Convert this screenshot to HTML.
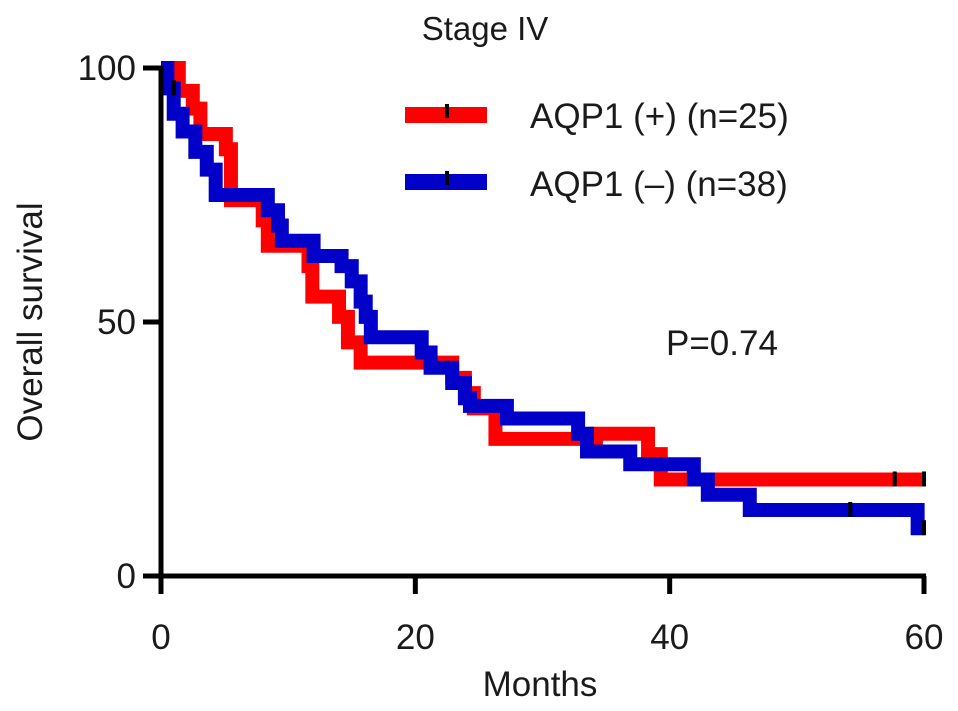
<!DOCTYPE html>
<html><head><meta charset="utf-8"><style>
body{margin:0;background:#fff;}
svg{display:block;font-family:"Liberation Sans",Arial,sans-serif;}
</style></head><body>
<svg id="chart" width="958" height="711" viewBox="0 0 958 711">
<text x="485" y="40" font-size="33" text-anchor="middle" fill="#1a1a1a">Stage IV</text>
<g id="series"></g>
<g id="axes" stroke="#000" stroke-width="5" fill="none"></g>
<g id="labels" font-size="35" fill="#1a1a1a"></g>
<text x="540" y="696" font-size="35" text-anchor="middle" fill="#1a1a1a">Months</text>
<text transform="translate(42,322) rotate(-90)" font-size="35" text-anchor="middle" fill="#1a1a1a">Overall survival</text>
<text x="666" y="355" font-size="35" fill="#1a1a1a">P=0.74</text>
<g>
<line x1="405" y1="115" x2="487" y2="115" stroke="#ff0000" stroke-width="16"/>
<line x1="447" y1="104" x2="447" y2="118" stroke="#000" stroke-width="4"/>
<text x="530" y="128" font-size="35" fill="#1a1a1a">AQP1 (+) (n=25)</text>
<line x1="405" y1="182" x2="487" y2="182" stroke="#0000c8" stroke-width="16"/>
<line x1="447" y1="171" x2="447" y2="185" stroke="#000" stroke-width="4"/>
<text x="530" y="196" font-size="35" fill="#1a1a1a">AQP1 (–) (n=38)</text>
</g>
</svg>
<script>
const xTicks=[0,20,40,60];
const yTicks=[0,50,100];
const redTimes=[0,1.4,2.5,3.1,5.1,5.5,8,8.4,11.6,11.9,14,14.7,15.7,22.9,23.9,24.6,26.3,34.2,38.3,39.3];
const redSurv=[100,95.5,92,87,84,74,70,65,61,55,51,46,42,39,36,33,27,28,24,19];
const redCensor=[57.7,60];
const redCensorSurv=[19,19];
const blueTimes=[0,0.5,1,1.7,2.7,3.6,4.3,8.4,9.2,9.5,12,14.2,15,15.7,16.1,16.5,20.5,21.2,22.9,23.9,24.3,27.2,32.8,33.5,36.9,41.9,43,46.3,59.5];
const blueSurv=[100,96,91,87.5,83.5,80,75,72,69,66,63,61,58,54,51,47,44,41,38,35,33.5,31,28,24.5,22,19,16,13,9.4];
const blueCensor=[1,54.2,60];
const blueCensorSurv=[96,13,9.4];
const xMax=60;
const X=t=>161+t*(924-161)/60;
const Y=s=>576-s*(576-68)/100;
const NS="http://www.w3.org/2000/svg";
function mk(tag,attrs,parent){const e=document.createElementNS(NS,tag);for(const k in attrs)e.setAttribute(k,attrs[k]);parent.appendChild(e);return e;}
const series=document.getElementById('series');
function drawCurve(times,surv,color,name){
  let d='M'+X(times[0])+','+Y(surv[0]);
  for(let i=0;i<times.length;i++){
    const end=i+1<times.length?times[i+1]:xMax;
    d+=' L'+X(times[i])+','+Y(surv[i])+' L'+X(end)+','+Y(surv[i]);
  }
  const p=mk('path',{d:d,stroke:color,'stroke-width':14,fill:'none','stroke-linejoin':'miter','stroke-linecap':'butt'},series);
  
  
}
drawCurve(redTimes,redSurv,'#ff0000','curve-aqp1-positive');
drawCurve(blueTimes,blueSurv,'#0000c8','curve-aqp1-negative');
function drawCensor(ts,ss,name){
  for(let i=0;i<ts.length;i++){
    const l=mk('line',{x1:X(ts[i]),x2:X(ts[i]),y1:Y(ss[i])-8,y2:Y(ss[i])+7,stroke:'#000','stroke-width':4},series);
    
    
  }
}
drawCensor(redCensor,redCensorSurv,'censor-mark-positive');
drawCensor(blueCensor,blueCensorSurv,'censor-mark-negative');
const axes=document.getElementById('axes'),labels=document.getElementById('labels');
const ya=mk('line',{x1:161,y1:66,x2:161,y2:578},axes);


const xa=mk('line',{x1:159,y1:576,x2:926,y2:576},axes);


yTicks.forEach(v=>{
  const t=mk('line',{x1:143,x2:161,y1:Y(v),y2:Y(v)},axes);
  
  
  const l=mk('text',{x:136,y:Y(v)+12,'text-anchor':'end'},labels);l.textContent=v;
  
  
});
xTicks.forEach(v=>{
  const t=mk('line',{x1:X(v),x2:X(v),y1:576,y2:594},axes);
  
  
  const l=mk('text',{x:X(v),y:649,'text-anchor':'middle'},labels);l.textContent=v;
  
  
});
</script>
</body></html>
